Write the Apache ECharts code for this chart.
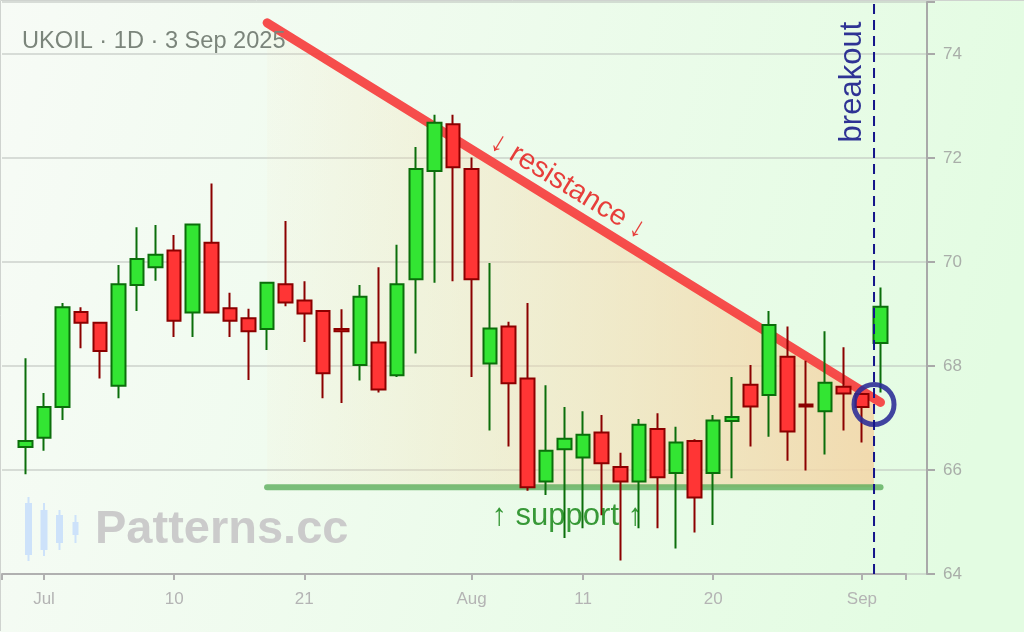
<!DOCTYPE html>
<html>
<head>
<meta charset="utf-8">
<script src="https://cdn.jsdelivr.net/npm/echarts@6/dist/echarts.min.js"></script>
<style>html,body{margin:0;padding:0;background:#fff}#chart{width:1024px;height:632px}</style>
</head>
<body>
<div id="chart"></div>
<script>
// ---- data ----
const dates = ['2025-06-30','2025-07-01','2025-07-02','2025-07-03','2025-07-04','2025-07-07','2025-07-08','2025-07-09','2025-07-10','2025-07-11',
'2025-07-14','2025-07-15','2025-07-16','2025-07-17','2025-07-18','2025-07-21','2025-07-22','2025-07-23','2025-07-24','2025-07-25',
'2025-07-28','2025-07-29','2025-07-30','2025-07-31','2025-08-01','2025-08-04','2025-08-05','2025-08-06','2025-08-07','2025-08-08',
'2025-08-11','2025-08-12','2025-08-13','2025-08-14','2025-08-15','2025-08-18','2025-08-19','2025-08-20','2025-08-21','2025-08-22',
'2025-08-25','2025-08-26','2025-08-27','2025-08-28','2025-08-29','2025-09-01','2025-09-02'];
const opens  = [66.44,66.62,67.21,69.04,68.83,67.62,69.56,69.90,70.22,69.03,70.37,69.11,68.92,68.71,69.57,69.26,69.06,68.71,68.02,68.45,
67.82,69.67,71.75,72.65,71.79,68.05,68.76,67.76,65.78,66.40,66.24,66.72,66.06,65.78,66.79,65.94,66.56,65.94,66.94,67.64,
67.44,68.18,67.26,67.13,67.60,67.46,68.44];
const closes = [66.56,67.21,69.13,68.83,68.29,69.57,70.06,70.14,68.87,70.72,69.03,68.87,68.67,69.60,69.22,69.01,67.86,68.67,69.33,67.55,
69.57,71.79,72.68,71.82,69.67,68.72,67.67,65.67,66.37,66.60,66.68,66.13,65.78,66.87,65.86,66.53,65.47,66.95,67.02,67.22,
68.79,66.74,67.22,67.68,67.47,67.21,69.14];
const lows   = [65.92,66.37,66.96,68.34,67.76,67.38,69.06,69.64,68.56,68.56,69.02,68.56,67.73,68.31,69.15,68.46,67.38,67.29,67.72,67.49,
67.79,68.24,69.60,69.63,67.79,66.76,66.45,65.60,65.52,64.69,64.88,65.13,64.26,64.88,64.88,64.49,64.80,64.94,65.84,66.45,
66.64,66.18,65.99,66.30,66.76,66.53,67.49];
const highs  = [68.15,67.48,69.21,69.13,68.85,69.94,70.67,70.71,70.52,70.74,71.51,69.41,69.10,69.62,70.79,69.63,69.07,69.09,69.56,69.90,
70.33,72.21,72.83,72.83,72.01,69.98,68.85,69.21,67.63,67.21,67.13,67.06,66.33,66.98,67.09,66.83,66.59,67.06,67.79,68.02,
69.06,68.76,68.10,68.67,68.36,67.47,69.51];

const tickDates = ['2025-07-01','2025-07-10','2025-07-21','2025-08-01','2025-08-11','2025-08-20','2025-09-01'];
const tickTexts = ['Jul','10','21','Aug','11','20','Sep'];
const yTicks = [64,66,68,70,72,74];

// pattern (in chart coordinates: bar index, price)
const resistance = [[13, 74.6], [46, 67.3]];
const supportLevel = 65.67;
const supportSpan = [13, 46];
const breakoutIndex = 45.65;
const breakoutPoint = [45.65, 67.26];

const titleText = 'UKOIL · 1D · 3 Sep 2025';

// ---- build ----
const candleData = dates.map((d, i) => [i, opens[i], closes[i], lows[i], highs[i]]);
const tickIdx = tickDates.map(d => dates.indexOf(d));
const labelMap = {};
tickIdx.forEach((ix, k) => { labelMap[ix] = tickTexts[k]; });

const xMin = -1.26, xMax = 47.37;
const yMin = 64, yMax = 75;
const FONT = '"Liberation Sans", Arial, sans-serif';

function resAt(x) {
  const [a, b] = resistance;
  return a[1] + (b[1] - a[1]) * (x - a[0]) / (b[0] - a[0]);
}

const chart = echarts.init(document.getElementById('chart'), null, {renderer: 'canvas'});

const option = {
  animation: false,
  backgroundColor: {
    type: 'linear', x: 0, y: 0, x2: 1, y2: 0.4,
    colorStops: [{offset: 0, color: '#f7fbf6'}, {offset: 1, color: '#e3fce2'}]
  },
  title: {
    text: titleText, left: 22, top: 29, padding: 0,
    textStyle: {color: '#7b857b', fontSize: 23.6, fontWeight: 'normal', fontFamily: FONT}
  },
  grid: [
    {left: 2, right: 97, top: 2, bottom: 58},
    {left: 2, right: 118, top: 2, bottom: 58}
  ],
  xAxis: [
    {gridIndex: 0, type: 'value', min: xMin, max: xMax, show: false},
    {
      gridIndex: 1, type: 'value', min: xMin, max: xMax,
      axisLine: {show: true, onZero: false, lineStyle: {color: '#b0b0b0', width: 2}},
      axisTick: {show: true, length: 6, customValues: [xMin].concat(tickIdx, [xMax]), lineStyle: {color: '#b0b0b0', width: 2}},
      axisLabel: {
        customValues: tickIdx, color: '#b4b4b4', fontSize: 17, fontFamily: FONT, margin: 17,
        formatter: v => labelMap[Math.round(v)] || ''
      },
      splitLine: {show: false}
    }
  ],
  yAxis: [
    {
      gridIndex: 0, type: 'value', position: 'right', min: yMin, max: yMax,
      axisLine: {show: true, onZero: false, lineStyle: {color: '#a9a9a9', width: 2}},
      axisTick: {show: true, length: 8, customValues: yTicks.concat([yMax]), lineStyle: {color: '#a9a9a9', width: 2}},
      axisLabel: {customValues: yTicks, color: '#a9aea9', fontSize: 17, fontFamily: FONT, margin: 16},
      splitLine: {show: true, lineStyle: {color: 'rgba(190,195,190,0.55)', width: 2}}
    },
    {gridIndex: 1, type: 'value', min: yMin, max: yMax, show: false, axisLine: {onZero: false}}
  ],
  series: [
    {
      type: 'custom', xAxisIndex: 1, yAxisIndex: 1, silent: true, z: 1,
      data: [[resistance[0][0], supportLevel]],
      encode: {x: 0, y: 1},
      renderItem: function (params, api) {
        const x0 = resistance[0][0], x1 = breakoutIndex;
        const pts = [api.coord([x0, resAt(x0)]), api.coord([x1, resAt(x1)]),
                     api.coord([x1, supportLevel]), api.coord([x0, supportLevel])];
        return {
          type: 'polygon', shape: {points: pts},
          style: {fill: new echarts.graphic.LinearGradient(0, 0, 1, 0, [
            {offset: 0, color: 'rgba(246,222,180,0.08)'},
            {offset: 1, color: 'rgba(243,214,168,0.88)'}
          ])}
        };
      }
    },
    {
      type: 'line', xAxisIndex: 1, yAxisIndex: 1, silent: true, z: 2, symbol: 'none',
      data: [[supportSpan[0], supportLevel], [supportSpan[1], supportLevel]],
      lineStyle: {color: 'rgba(88,172,88,0.78)', width: 6, cap: 'round'}
    },
    {
      type: 'line', xAxisIndex: 1, yAxisIndex: 1, silent: true, z: 3, symbol: 'none',
      data: resistance,
      lineStyle: {color: 'rgba(246,62,62,0.92)', width: 9, cap: 'round'}
    },
    {
      type: 'candlestick', xAxisIndex: 1, yAxisIndex: 1, z: 4,
      barWidth: 14,
      encode: {x: 0, y: [1, 2, 3, 4]},
      data: candleData,
      itemStyle: {color: '#33e533', color0: '#ff3535', borderColor: '#0b6e0b', borderColor0: '#8b0000', borderWidth: 2}
    },
    {
      type: 'scatter', xAxisIndex: 1, yAxisIndex: 1, silent: true, z: 5,
      data: [breakoutPoint], symbol: 'circle', symbolSize: 40,
      itemStyle: {color: 'rgba(0,0,0,0)', borderColor: 'rgba(42,42,150,0.88)', borderWidth: 5, opacity: 1}
    },
    {
      type: 'line', xAxisIndex: 1, yAxisIndex: 1, silent: true, z: 6, symbol: 'none', clip: false,
      data: [[breakoutIndex, yMin], [breakoutIndex, yMax + 0.04]],
      lineStyle: {color: '#14148a', width: 2, type: [10, 6]}
    },
    {
      type: 'scatter', xAxisIndex: 1, yAxisIndex: 1, silent: true, z: 7,
      symbolSize: 0,
      data: [
        {value: [29.2, 71.46], label: {formatter: '↓ resistance ↓', rotate: -31.5, color: '#e60f0f', fontSize: 29}},
        {value: [29.15, 65.1], label: {formatter: '↑ support ↑', color: '#0a800a', fontSize: 31}},
        {value: [44.5, 73.46], label: {formatter: 'breakout', rotate: 90, color: '#000080', fontSize: 31}}
      ],
      label: {show: true, position: 'inside', align: 'center', verticalAlign: 'middle', fontFamily: FONT}
    }
  ],
  graphic: [
    {type: 'polyline', silent: true, z: 0, shape: {points: [[0.5, 631], [0.5, 0.5], [1024, 0.5]]}, style: {stroke: '#cfd3cf', lineWidth: 1, fill: null}},
    {type: 'group', silent: true, z: 0, children: [
      {type: 'line', shape: {x1: 28.5, y1: 497, x2: 28.5, y2: 561}, style: {stroke: '#cde2fa', lineWidth: 2}},
      {type: 'rect', shape: {x: 25, y: 503, width: 7, height: 52}, style: {fill: '#cde2fa'}},
      {type: 'line', shape: {x1: 44, y1: 503, x2: 44, y2: 556}, style: {stroke: '#cde2fa', lineWidth: 2}},
      {type: 'rect', shape: {x: 40.5, y: 510, width: 7, height: 40}, style: {fill: '#cde2fa'}},
      {type: 'line', shape: {x1: 59.5, y1: 510, x2: 59.5, y2: 550}, style: {stroke: '#cde2fa', lineWidth: 2}},
      {type: 'rect', shape: {x: 56, y: 515, width: 7, height: 28}, style: {fill: '#cde2fa'}},
      {type: 'line', shape: {x1: 75.5, y1: 515, x2: 75.5, y2: 543}, style: {stroke: '#cde2fa', lineWidth: 2}},
      {type: 'rect', shape: {x: 72.5, y: 522, width: 6, height: 13}, style: {fill: '#cde2fa'}}
    ]},
    {type: 'text', silent: true, z: 0, left: 95, top: 507,
      style: {text: 'Patterns.cc', fill: '#cbcbcb', font: 'bold 47px ' + FONT}}
  ]
};
chart.setOption(option);
</script>
</body>
</html>
